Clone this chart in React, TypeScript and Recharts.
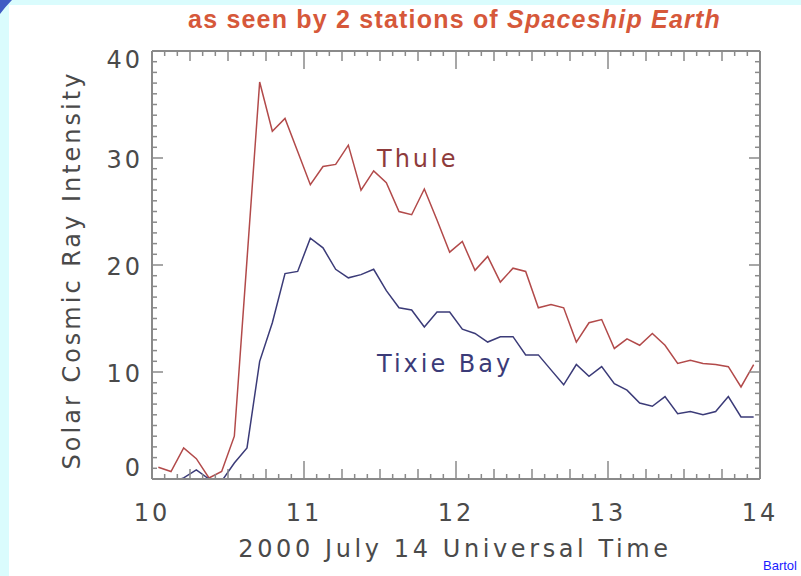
import React from "react";
import { LineChart, Line, XAxis, YAxis } from "recharts";

// minutes after 10:00 UT (5-minute bin centres)
const minutes = [
  2.5, 7.5, 12.5, 17.5, 22.5, 27.5, 32.5, 37.5, 42.5, 47.5, 52.5, 57.5,
  62.5, 67.5, 72.5, 77.5, 82.5, 87.5, 92.5, 97.5, 102.5, 107.5, 112.5, 117.5,
  122.5, 127.5, 132.5, 137.5, 142.5, 147.5, 152.5, 157.5, 162.5, 167.5, 172.5, 177.5,
  182.5, 187.5, 192.5, 197.5, 202.5, 207.5, 212.5, 217.5, 222.5, 227.5, 232.5, 237.5,
];

const thule = [
  1.1, 0.7, 2.9, 1.9, 0.1, 0.7, 4.0, 20.5, 37.1, 32.5, 33.7, 30.6,
  27.5, 29.2, 29.4, 31.2, 27.0, 28.8, 27.7, 25.0, 24.7, 27.1, 24.2, 21.2,
  22.2, 19.5, 20.8, 18.4, 19.7, 19.4, 16.0, 16.3, 16.0, 12.8, 14.6, 14.9,
  12.2, 13.1, 12.5, 13.6, 12.5, 10.8, 11.1, 10.8, 10.7, 10.5, 8.6, 10.7,
];

const tixieBay = [
  -0.5, -0.3, 0.1, 0.85, 0.0, -0.2, 1.5, 2.9, 11.0, 14.6, 19.2, 19.4,
  22.5, 21.6, 19.6, 18.8, 19.1, 19.6, 17.6, 16.0, 15.8, 14.2, 15.6, 15.6,
  14.0, 13.6, 12.8, 13.3, 13.3, 11.6, 11.6, 10.2, 8.8, 10.7, 9.6, 10.5,
  8.9, 8.3, 7.1, 6.8, 7.7, 6.1, 6.3, 6.0, 6.3, 7.7, 5.8, 5.8,
];

const hourLabels = ["10", "11", "12", "13", "14"];
const yLabels = [0, 10, 20, 30, 40];

const data = minutes.map((m, i) => ({ m, thule: thule[i], tixie: tixieBay[i] }));

const xTicks: number[] = [];
for (let m = 0; m <= 240; m += 5) xTicks.push(m);
const yTicks: number[] = [];
for (let v = 0; v <= 40; v += 1) yTicks.push(v);

const AXIS = "#8a8a8a";
const TXT = "#4a4a4a";
const FONT = "'DejaVu Sans', sans-serif";

const xLen = (m: number) => (m % 60 === 0 ? 18 : m % 15 === 0 ? 10 : 5);
const yLen = (v: number) => (v % 10 === 0 ? 11 : 5);

const BottomTick = (p: any) => {
  const m = p.payload.value;
  const L = xLen(m);
  const isHour = m % 60 === 0;
  return (
    <g>
      <line x1={p.x} x2={p.x} y1={p.y} y2={p.y - L} stroke={AXIS} strokeWidth={1.5} />
      {isHour && (
        <text x={p.x} y={p.y + 42} textAnchor="middle" fontFamily={FONT} fontSize={24}
          fill={TXT} style={{ letterSpacing: 3 }}>
          {hourLabels[m / 60]}
        </text>
      )}
    </g>
  );
};

const TopTick = (p: any) => {
  const m = p.payload.value;
  const L = xLen(m);
  return <line x1={p.x} x2={p.x} y1={p.y} y2={p.y + L} stroke={AXIS} strokeWidth={1.5} />;
};

const LeftTick = (p: any) => {
  const v = p.payload.value;
  const L = yLen(v);
  const isMajor = v % 10 === 0;
  const dy = v === 40 ? 19 : v === 0 ? -1 : 12;
  return (
    <g>
      <line x1={p.x} x2={p.x + L} y1={p.y} y2={p.y} stroke={AXIS} strokeWidth={1.5} />
      {isMajor && (
        <text x={p.x - 9} y={p.y + dy - 2} textAnchor="end" fontFamily={FONT} fontSize={24}
          fill={TXT} style={{ letterSpacing: 3 }}>
          {String(yLabels[v / 10])}
        </text>
      )}
    </g>
  );
};

const RightTick = (p: any) => {
  const v = p.payload.value;
  const L = yLen(v);
  return <line x1={p.x} x2={p.x - L} y1={p.y} y2={p.y} stroke={AXIS} strokeWidth={1.5} />;
};

export default function App() {
  return (
    <div style={{ position: "absolute", left: 0, top: 0, width: 801, height: 576, background: "#dafcfd", overflow: "hidden" }}>
      <div style={{ position: "absolute", left: 9, top: 5, width: 792, height: 571, background: "#ffffff" }} />
      <svg width={14} height={16} style={{ position: "absolute", left: 0, top: 0 }}>
        <path d="M0 0 L12 0 Q6 6 0 14 Z" fill="#3f5cc4" />
      </svg>
      <div style={{ position: "absolute", left: 0, top: 0 }}>
        <LineChart width={801} height={576} data={data}
          margin={{ top: 41, right: 31, bottom: 67, left: 92 }}>
          <XAxis xAxisId="bottom" type="number" dataKey="m" domain={[0, 240]} ticks={xTicks}
            interval={0} allowDataOverflow tickLine={false} tickSize={0} tickMargin={0} height={30}
            axisLine={{ stroke: AXIS, strokeWidth: 2 }} tick={BottomTick} />
          <XAxis xAxisId="top" orientation="top" type="number" dataKey="m" domain={[0, 240]} ticks={xTicks}
            interval={0} allowDataOverflow tickLine={false} tickSize={0} tickMargin={0} height={10}
            axisLine={{ stroke: AXIS, strokeWidth: 2 }} tick={TopTick} />
          <YAxis yAxisId="left" type="number" domain={[0, 40]} ticks={yTicks} interval={0}
            allowDataOverflow tickLine={false} tickSize={0} tickMargin={0} width={60}
            axisLine={{ stroke: AXIS, strokeWidth: 2 }} tick={LeftTick} />
          <YAxis yAxisId="right" orientation="right" type="number" domain={[0, 40]} ticks={yTicks} interval={0}
            allowDataOverflow tickLine={false} tickSize={0} tickMargin={0} width={10}
            axisLine={{ stroke: AXIS, strokeWidth: 2 }} tick={RightTick} />
          <Line xAxisId="bottom" yAxisId="left" type="linear" dataKey="thule" stroke="#b24a4a"
            strokeWidth={1.5} dot={false} isAnimationActive={false} />
          <Line xAxisId="bottom" yAxisId="left" type="linear" dataKey="tixie" stroke="#3b3b78"
            strokeWidth={1.5} dot={false} isAnimationActive={false} />
        </LineChart>
      </div>
      <div style={{ position: "absolute", left: 0, width: 909, top: 5, textAlign: "center", fontFamily: "'Liberation Sans', Arial, sans-serif", fontWeight: "bold", fontSize: 25, letterSpacing: 1.2, color: "#d6583a", whiteSpace: "nowrap" }}>
        as seen by 2 stations of <i>Spaceship Earth</i>
      </div>
      <div style={{ position: "absolute", left: 377, top: 145, fontFamily: FONT, fontSize: 24, letterSpacing: 3, color: "#8e3b3b", whiteSpace: "nowrap" }}>Thule</div>
      <div style={{ position: "absolute", left: 377, top: 350, fontFamily: FONT, fontSize: 24, letterSpacing: 3, color: "#3b3b78", whiteSpace: "nowrap" }}>Tixie Bay</div>
      <div style={{ position: "absolute", left: 0, width: 910, top: 535, textAlign: "center", fontFamily: FONT, fontSize: 24, letterSpacing: 3.6, color: TXT, whiteSpace: "nowrap" }}>2000 July 14 Universal Time</div>
      <div style={{ position: "absolute", left: 72, top: 270, width: 0, height: 0 }}>
        <div style={{ position: "absolute", left: -250, top: -15, width: 500, textAlign: "center", transform: "rotate(-90deg)", fontFamily: FONT, fontSize: 24, letterSpacing: 3, color: TXT, whiteSpace: "nowrap", lineHeight: "30px" }}>Solar Cosmic Ray Intensity</div>
      </div>
      <div style={{ position: "absolute", left: 763, top: 558, fontFamily: "'Liberation Sans', Arial, sans-serif", fontSize: 13, color: "#1a1aff" }}>Bartol</div>
    </div>
  );
}
